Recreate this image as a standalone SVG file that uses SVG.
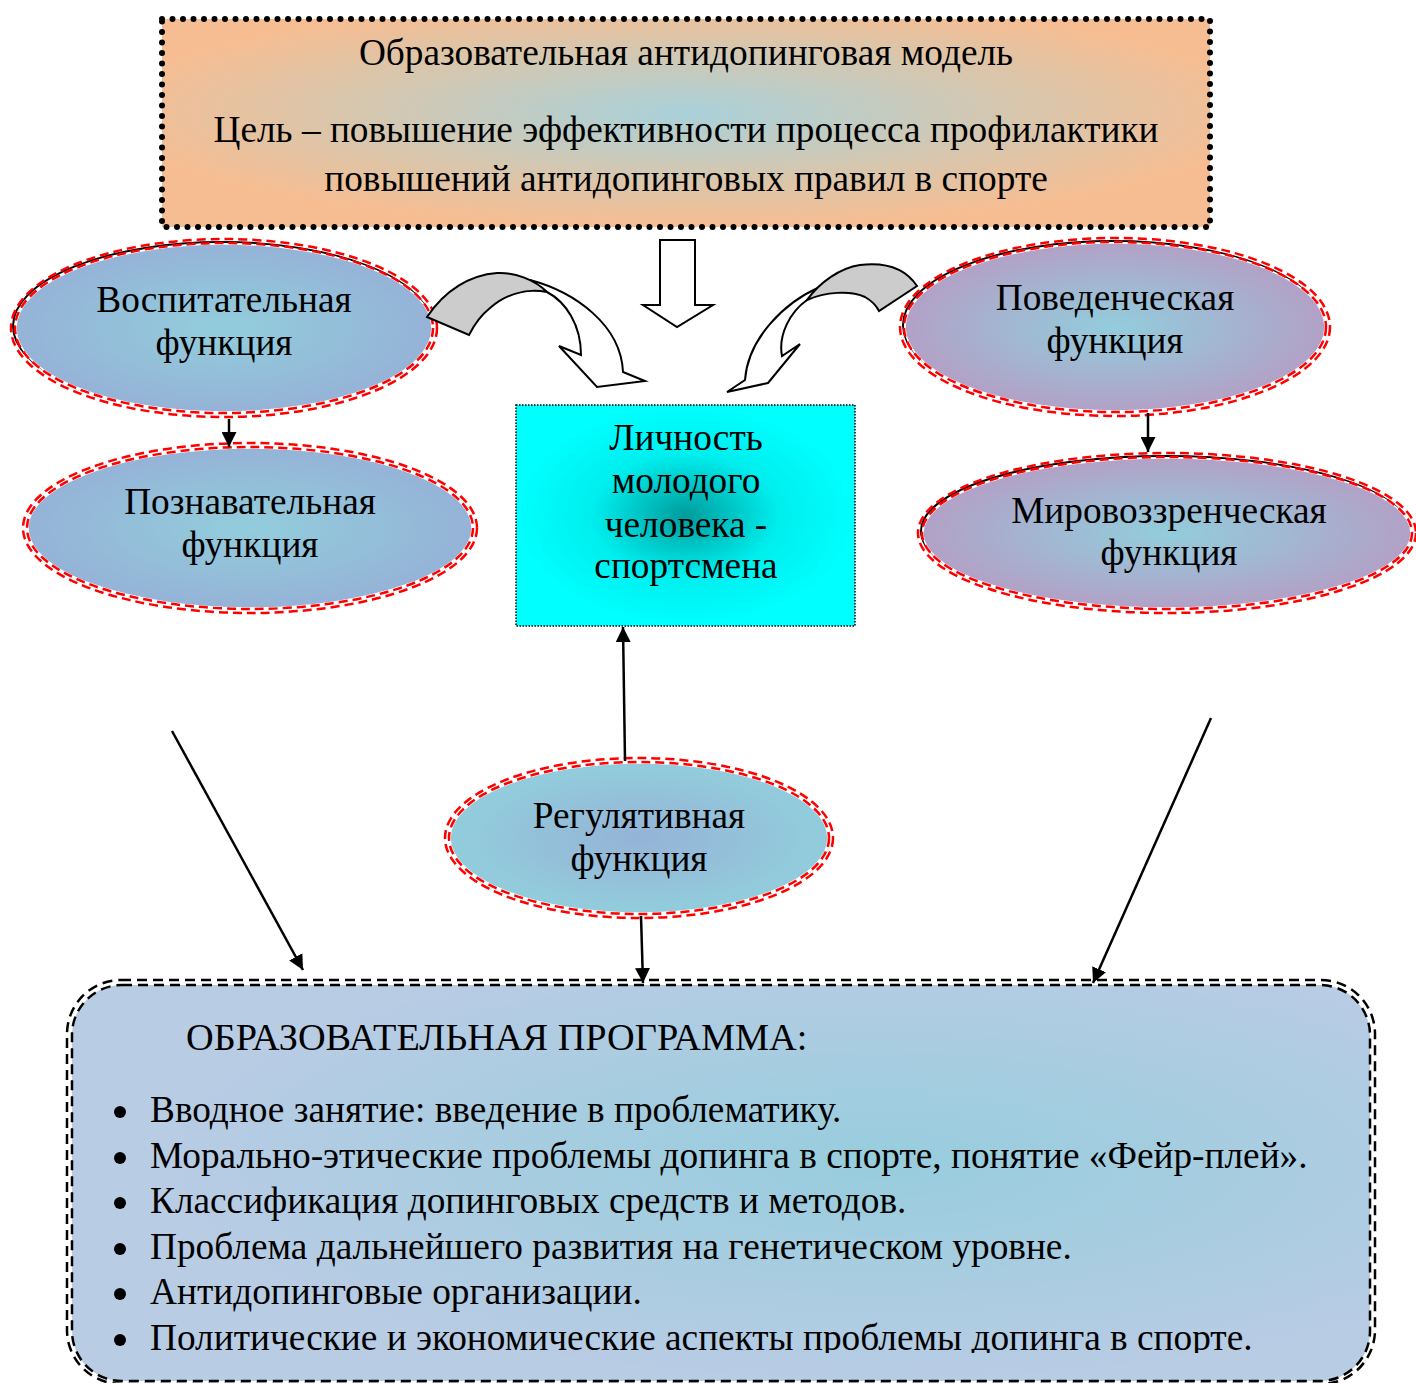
<svg xmlns="http://www.w3.org/2000/svg" width="1416" height="1383" viewBox="0 0 1416 1383">
<defs>
<radialGradient id="gTop" cx="50%" cy="45%" r="55%">
<stop offset="0" stop-color="#A9D1DA"/>
<stop offset="0.6" stop-color="#D9C6AC"/>
<stop offset="1" stop-color="#F6BD92"/>
</radialGradient>
<radialGradient id="gBlue" cx="50%" cy="50%" r="50%">
<stop offset="0" stop-color="#92CDDC"/>
<stop offset="1" stop-color="#95B3D7"/>
</radialGradient>
<radialGradient id="gPurple" cx="50%" cy="50%" r="50%">
<stop offset="0" stop-color="#92CDDC"/>
<stop offset="1" stop-color="#B2A1C7"/>
</radialGradient>
<radialGradient id="gReg" cx="50%" cy="50%" r="50%">
<stop offset="0" stop-color="#95B3D7"/>
<stop offset="1" stop-color="#92CDDC"/>
</radialGradient>
<radialGradient id="gCyan" cx="50%" cy="50%" r="50%">
<stop offset="0" stop-color="#009C9C"/>
<stop offset="0.55" stop-color="#00EEEE"/>
<stop offset="1" stop-color="#00FFFF"/>
</radialGradient>
<radialGradient id="gProg" cx="62%" cy="45%" r="55%">
<stop offset="0" stop-color="#97CDDD"/>
<stop offset="1" stop-color="#B8CCE4"/>
</radialGradient>
<marker id="ah" viewBox="0 0 10 10" refX="10" refY="5" markerWidth="6" markerHeight="6" markerUnits="strokeWidth" orient="auto">
<path d="M0,0 L10,5 L0,10 Z" fill="#000"/>
</marker>
<clipPath id="clipProg"><rect x="0" y="0" width="1416" height="1353"/></clipPath>
</defs>
<style>
text{font-family:"Liberation Serif","Times New Roman",serif;fill:#000;}
.t{font-size:37.3px;}
.c{text-anchor:middle;}
.red{fill:none;stroke:#FF0000;stroke-width:2.5;stroke-dasharray:9 5;}
.shadow{fill:none;stroke:#000;stroke-width:2;}
.edge{stroke:#FFFFFF;stroke-width:1.5;}
.conn{fill:none;stroke:#000;stroke-width:2.5;marker-end:url(#ah);}
.blk{stroke:#000;stroke-width:2;stroke-linejoin:miter;}
</style>

<g id="top-box">
<rect x="162" y="19" width="1048" height="208" fill="url(#gTop)"/>
<rect x="162" y="19" width="1048" height="208" fill="none" stroke="#000" stroke-width="6" stroke-dasharray="0 10.5" stroke-linecap="round"/>
<text class="t c" x="686" y="65">Образовательная антидопинговая модель</text>
<text class="t c" x="686" y="142">Цель – повышение эффективности процесса профилактики</text>
<text class="t c" x="686" y="191">повышений антидопинговых правил в спорте</text>
</g>

<g id="vospitatelnaya">
<ellipse class="shadow" cx="222" cy="326" rx="209" ry="84"/>
<ellipse class="edge" cx="224" cy="328" rx="208" ry="84" fill="url(#gBlue)"/>
<ellipse class="red" cx="224" cy="328" rx="209" ry="85"/>
<ellipse class="red" cx="224" cy="328" rx="213" ry="89"/>
<text class="t c" x="224" y="312">Воспитательная</text>
<text class="t c" x="224" y="355">функция</text>
</g>

<g id="poznavatelnaya">
<ellipse class="edge" cx="250" cy="528" rx="222" ry="80" fill="url(#gBlue)"/>
<ellipse class="red" cx="250" cy="528" rx="223" ry="81"/>
<ellipse class="red" cx="250" cy="528" rx="227" ry="85"/>
<text class="t c" x="250" y="514">Познавательная</text>
<text class="t c" x="250" y="557">функция</text>
</g>

<g id="povedencheskaya">
<ellipse class="shadow" cx="1113" cy="325" rx="210" ry="84"/>
<ellipse class="edge" cx="1115" cy="327" rx="210" ry="84" fill="url(#gPurple)"/>
<ellipse class="red" cx="1115" cy="327" rx="211" ry="85"/>
<ellipse class="red" cx="1115" cy="327" rx="215" ry="89"/>
<text class="t c" x="1115" y="310">Поведенческая</text>
<text class="t c" x="1115" y="353">функция</text>
</g>

<g id="mirovozzrencheskaya">
<ellipse class="shadow" cx="1165" cy="531" rx="244" ry="75"/>
<ellipse class="edge" cx="1167" cy="533" rx="244" ry="75" fill="url(#gPurple)"/>
<ellipse class="red" cx="1167" cy="533" rx="245" ry="76"/>
<ellipse class="red" cx="1167" cy="533" rx="249" ry="80"/>
<text class="t c" x="1169" y="523">Мировоззренческая</text>
<text class="t c" x="1169" y="565">функция</text>
</g>

<g id="lichnost">
<rect x="516" y="405" width="339" height="221" fill="url(#gCyan)" stroke="#000" stroke-width="1.5" stroke-dasharray="1.5 1.5"/>
<text class="t c" x="686" y="450">Личность</text>
<text class="t c" x="686" y="493">молодого</text>
<text class="t c" x="686" y="537">человека -</text>
<text class="t c" x="686" y="578">спортсмена</text>
</g>

<g id="regulyativnaya">
<ellipse class="edge" cx="639" cy="838" rx="189" ry="75" fill="url(#gReg)"/>
<ellipse class="red" cx="639" cy="838" rx="190" ry="76"/>
<ellipse class="red" cx="639" cy="838" rx="194" ry="80"/>
<text class="t c" x="639" y="828">Регулятивная</text>
<text class="t c" x="639" y="871">функция</text>
</g>

<g id="programma">
<rect x="72" y="985" width="1298" height="396" rx="50" ry="50" fill="url(#gProg)"/>
<rect x="72" y="985" width="1298" height="396" rx="50" ry="50" fill="none" stroke="#000" stroke-width="2.5" stroke-dasharray="10 6"/>
<rect x="67" y="980" width="1308" height="404" rx="54" ry="54" fill="none" stroke="#000" stroke-width="2.5" stroke-dasharray="10 6"/>
<text class="t" x="186" y="1050" style="font-size:38.3px">ОБРАЗОВАТЕЛЬНАЯ ПРОГРАММА:</text>
<g clip-path="url(#clipProg)">
<circle cx="120" cy="1112" r="6"/>
<circle cx="120" cy="1158" r="6"/>
<circle cx="120" cy="1203" r="6"/>
<circle cx="120" cy="1249" r="6"/>
<circle cx="120" cy="1294" r="6"/>
<circle cx="120" cy="1340" r="6"/>
<text class="t" x="150" y="1122">Вводное занятие: введение в проблематику.</text>
<text class="t" x="150" y="1168">Морально-этические проблемы допинга в спорте, понятие «Фейр-плей».</text>
<text class="t" x="150" y="1213">Классификация допинговых средств и методов.</text>
<text class="t" x="150" y="1259">Проблема дальнейшего развития на генетическом уровне.</text>
<text class="t" x="150" y="1304">Антидопинговые организации.</text>
<text class="t" x="150" y="1350">Политические и экономические аспекты проблемы допинга в спорте.</text>
</g>
</g>

<g id="connectors">
<path class="blk" fill="#FFFFFF" d="M660,240 L695,240 L695,305 L713,305 L677,327 L643,305 L660,305 Z"/>
<path class="blk" fill="#FFFFFF" d="M530,280 C575,292 621,325 623,372 L645,381 L597,387 L559,346 L581,355 C581,325 566,302 547,292 Z"/>
<path class="blk" fill="#CCCCCC" d="M427,317 C445,290 470,275 497,273 C515,272 535,280 547,292 C525,288 505,295 490,308 C480,316 474,325 469,335 Z"/>
<path class="blk" fill="#FFFFFF" d="M820,287 C785,302 748,338 745,380 L727,392 L768,383 L800,344 L782,356 C778,335 790,312 807,300 Z"/>
<path class="blk" fill="#CCCCCC" d="M917,286 C905,268 885,262 860,265 C840,268 820,282 807,300 C825,292 850,290 865,297 C872,301 876,305 879,311 Z"/>
<line class="conn" x1="229" y1="419" x2="229" y2="447"/>
<line class="conn" x1="1148" y1="413" x2="1148" y2="452"/>
<line class="conn" x1="625" y1="761" x2="623" y2="627"/>
<line class="conn" x1="641" y1="916" x2="643" y2="983"/>
<line class="conn" x1="172" y1="731" x2="303" y2="970"/>
<line class="conn" x1="1211" y1="718" x2="1093" y2="983"/>
</g>
</svg>
